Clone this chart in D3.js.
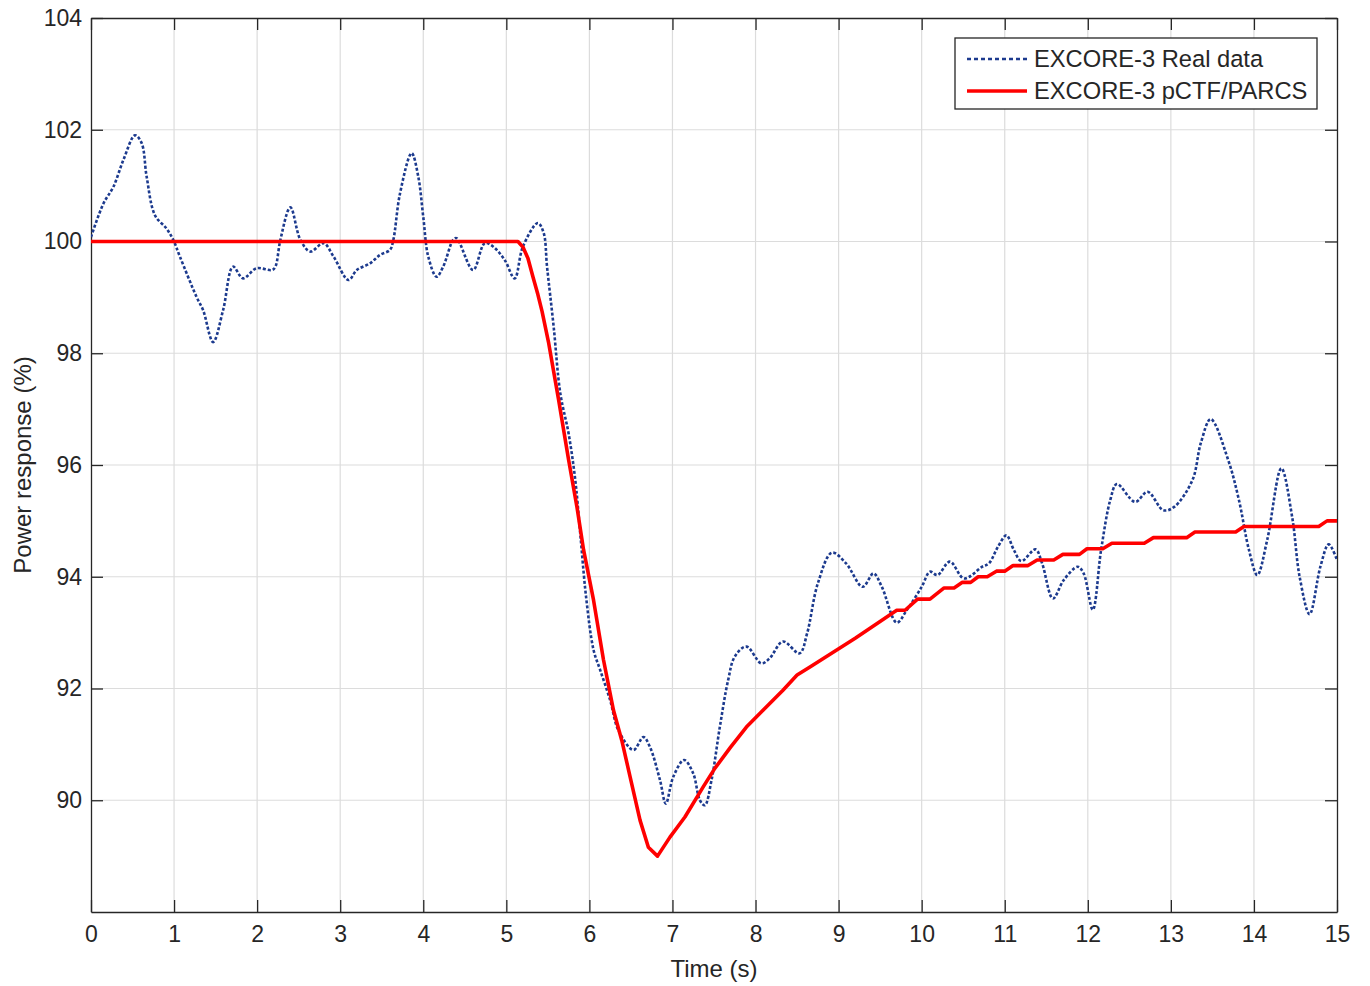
<!DOCTYPE html>
<html>
<head>
<meta charset="utf-8">
<script src="https://cdn.jsdelivr.net/npm/d3@7"></script>
<style>
  body { margin: 0; background: #fff; }
  svg text { font-family: "Liberation Sans", Arial, sans-serif; fill: #262626; }
</style>
</head>
<body>
<figure id="chart" style="margin:0"></figure>
<script>
// Real data (blue dotted) - time (s) and power (%)
const realTime = [0, 0.15, 0.27, 0.39, 0.53, 0.61, 0.67, 0.77, 0.91, 0.99, 1.07, 1.27, 1.35, 1.47, 1.59, 1.71, 1.83, 1.99, 2.18, 2.22, 2.28, 2.40, 2.52, 2.64, 2.80, 2.92, 3.10, 3.20, 3.36, 3.48, 3.60, 3.64, 3.72, 3.86, 3.94, 4.0, 4.06, 4.16, 4.24, 4.36, 4.40, 4.60, 4.74, 4.84, 4.98, 5.10, 5.20, 5.38, 5.45, 5.49, 5.57, 5.65, 5.75, 5.83, 5.89, 5.96, 6.05, 6.13, 6.25, 6.35, 6.53, 6.65, 6.73, 6.85, 6.92, 7.01, 7.14, 7.25, 7.33, 7.39, 7.47, 7.57, 7.67, 7.75, 7.89, 8.07, 8.17, 8.33, 8.53, 8.62, 8.75, 8.92, 9.09, 9.29, 9.42, 9.52, 9.70, 9.82, 10.0, 10.10, 10.19, 10.34, 10.51, 10.73, 10.81, 10.92, 11.02, 11.11, 11.20, 11.37, 11.45, 11.58, 11.71, 11.88, 11.95, 12.06, 12.16, 12.27, 12.35, 12.57, 12.72, 12.91, 13.04, 13.26, 13.36, 13.48, 13.69, 13.82, 13.94, 14.04, 14.16, 14.33, 14.46, 14.55, 14.67, 14.80, 14.90, 15.0];
const realPower = [100.08, 100.68, 100.98, 101.46, 101.9, 101.76, 101.16, 100.47, 100.23, 100.03, 99.73, 99.01, 98.77, 98.2, 98.77, 99.55, 99.34, 99.52, 99.49, 99.55, 100.03, 100.61, 100.03, 99.82, 99.97, 99.73, 99.31, 99.49, 99.61, 99.76, 99.85, 100.03, 100.86, 101.58, 101.16, 100.44, 99.73, 99.37, 99.55, 100.03, 100.06, 99.49, 99.97, 99.91, 99.67, 99.34, 99.91, 100.33, 100.15, 99.55, 98.47, 97.28, 96.56, 95.73, 94.77, 93.64, 92.69, 92.33, 91.79, 91.25, 90.90, 91.13, 90.95, 90.36, 89.94, 90.42, 90.72, 90.48, 90.0, 89.91, 90.36, 91.31, 92.15, 92.57, 92.75, 92.45, 92.54, 92.84, 92.63, 92.98, 93.88, 94.43, 94.24, 93.82, 94.06, 93.82, 93.18, 93.40, 93.82, 94.09, 94.03, 94.27, 93.97, 94.18, 94.24, 94.54, 94.74, 94.48, 94.28, 94.49, 94.24, 93.61, 93.94, 94.18, 94.06, 93.41, 94.48, 95.37, 95.66, 95.34, 95.52, 95.19, 95.25, 95.73, 96.39, 96.82, 96.09, 95.37, 94.48, 94.03, 94.66, 95.94, 95.07, 94.0, 93.33, 94.18, 94.58, 94.30];

// pCTF/PARCS simulation (red)
const simTime = [0, 5.14, 5.20, 5.26, 5.32, 5.38, 5.43, 5.51, 5.63, 5.75, 5.85, 5.93, 6.05, 6.17, 6.29, 6.39, 6.49, 6.61, 6.71, 6.82, 6.97, 7.15, 7.37, 7.51, 7.70, 7.89, 8.09, 8.33, 8.50, 8.66, 9.2, 9.70, 9.80, 9.95, 10.10, 10.27, 10.39, 10.49, 10.59, 10.68, 10.79, 10.90, 11.0, 11.10, 11.28, 11.39, 11.59, 11.70, 11.90, 11.99, 12.18, 12.29, 12.68, 12.79, 13.19, 13.29, 13.78, 13.88, 14.78, 14.88, 15.0];
const simPower = [100, 100, 99.9, 99.7, 99.37, 99.05, 98.75, 98.18, 97.16, 96.09, 95.25, 94.48, 93.58, 92.51, 91.61, 91.07, 90.42, 89.64, 89.16, 89.0, 89.34, 89.70, 90.24, 90.57, 90.95, 91.31, 91.61, 91.97, 92.24, 92.39, 92.9, 93.4, 93.4, 93.6, 93.6, 93.8, 93.8, 93.9, 93.9, 94.0, 94.0, 94.1, 94.1, 94.2, 94.2, 94.3, 94.3, 94.4, 94.4, 94.5, 94.5, 94.6, 94.6, 94.7, 94.7, 94.8, 94.8, 94.9, 94.9, 95.0, 95.0];

const xTicks = d3.range(0, 16, 1);
const yTicks = [90, 92, 94, 96, 98, 100, 102, 104];
const legendLabels = ["EXCORE-3 Real data", "EXCORE-3 pCTF/PARCS"];

const width = 1370, height = 986;
const margin = {left: 91, right: 33, top: 18, bottom: 74};
const w = width - margin.left - margin.right;
const h = height - margin.top - margin.bottom;

const svg = d3.select("figure#chart")
  .append("svg")
  .attr("width", width)
  .attr("height", height);

const g = svg.append("g")
  .attr("transform", "translate(" + margin.left + "," + margin.top + ")");

const x = d3.scaleLinear().domain([0, 15]).range([0, w]);
const y = d3.scaleLinear().domain([88, 104]).range([h, 0]);

// grid
g.append("g").selectAll("line")
  .data(xTicks.slice(1, -1))
  .enter().append("line")
  .attr("x1", d => x(d)).attr("x2", d => x(d))
  .attr("y1", 0).attr("y2", h)
  .attr("stroke", "#dcdcdc").attr("stroke-width", 1.2);
g.append("g").selectAll("line")
  .data(yTicks.slice(0, -1))
  .enter().append("line")
  .attr("y1", d => y(d)).attr("y2", d => y(d))
  .attr("x1", 0).attr("x2", w)
  .attr("stroke", "#dcdcdc").attr("stroke-width", 1.2);

// axes (inward ticks, box on)
function styleAxis(sel) {
  sel.selectAll("path, line").attr("stroke", "#262626").attr("stroke-width", 1.3);
  sel.selectAll("text").attr("fill", "#262626").style("font-size", "23px");
}

g.append("g")
  .attr("transform", "translate(0," + h + ")")
  .call(d3.axisBottom(x).tickValues(xTicks).tickSizeInner(-12).tickSizeOuter(0).tickPadding(14))
  .call(styleAxis);
g.append("g")
  .call(d3.axisTop(x).tickValues(xTicks).tickSizeInner(-12).tickSizeOuter(0).tickFormat(""))
  .call(styleAxis);
g.append("g")
  .call(d3.axisLeft(y).tickValues(yTicks).tickSizeInner(-12).tickSizeOuter(0).tickPadding(9))
  .call(styleAxis);
g.append("g")
  .attr("transform", "translate(" + w + ",0)")
  .call(d3.axisRight(y).tickValues(yTicks).tickSizeInner(-12).tickSizeOuter(0).tickFormat(""))
  .call(styleAxis);

// axis labels
svg.append("text")
  .attr("x", margin.left + w / 2)
  .attr("y", 977)
  .attr("text-anchor", "middle")
  .style("font-size", "24px")
  .text("Time (s)");
svg.append("text")
  .attr("transform", "translate(31," + (margin.top + h / 2) + ")rotate(-90)")
  .attr("text-anchor", "middle")
  .style("font-size", "24px")
  .text("Power response (%)");

// series
const realData = realTime.map((t, i) => ({t: t, v: realPower[i]}));
const simData = simTime.map((t, i) => ({t: t, v: simPower[i]}));

g.append("clipPath").attr("id", "clip")
  .append("rect").attr("width", w).attr("height", h);

g.append("path")
  .datum(realData)
  .attr("clip-path", "url(#clip)")
  .attr("fill", "none")
  .attr("stroke", "#1c3a8e")
  .attr("stroke-width", 2.6)
  .attr("stroke-dasharray", "3,2")
  .attr("d", d3.line().x(d => x(d.t)).y(d => y(d.v)).curve(d3.curveCatmullRom.alpha(0.5)));

g.append("path")
  .datum(simData)
  .attr("fill", "none")
  .attr("stroke", "#ff0000")
  .attr("stroke-width", 3.6)
  .attr("stroke-linejoin", "round")
  .attr("d", d3.line().x(d => x(d.t)).y(d => y(d.v)));

// legend
const legend = svg.append("g").attr("transform", "translate(955,38)");
legend.append("rect")
  .attr("width", 362).attr("height", 71)
  .attr("fill", "#fff").attr("stroke", "#262626").attr("stroke-width", 1.3);
const legendStyles = [
  {stroke: "#1c3a8e", width: 2.6, dash: "4,3"},
  {stroke: "#ff0000", width: 3.6, dash: null}
];
legendLabels.forEach((label, i) => {
  const ly = 21 + i * 32;
  legend.append("line")
    .attr("x1", 12).attr("x2", 72).attr("y1", ly).attr("y2", ly)
    .attr("stroke", legendStyles[i].stroke)
    .attr("stroke-width", legendStyles[i].width)
    .attr("stroke-dasharray", legendStyles[i].dash);
  legend.append("text")
    .attr("x", 79).attr("y", ly + 8)
    .style("font-size", "23.7px")
    .text(label);
});
</script>
</body>
</html>
